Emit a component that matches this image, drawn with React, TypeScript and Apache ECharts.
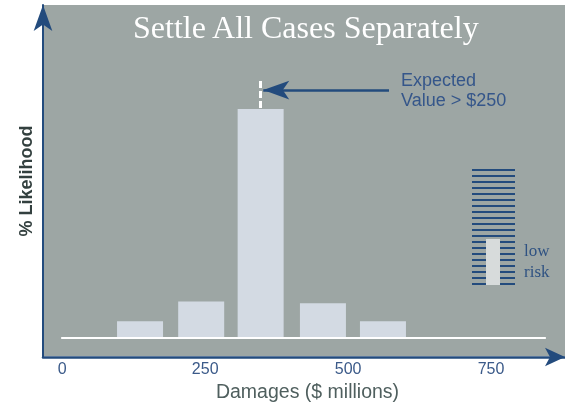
import React, { useEffect, useRef } from "react";
import * as echarts from "echarts";

// ---- data ----
const damageCenters = [136, 243, 347, 456, 561]; // $ millions (bar centres)
const likelihood = [5, 11, 70, 10.5, 5]; // % likelihood
const tickValues = [0, 250, 500, 750];
const expectedValue = 347;
const titleText = "Settle All Cases Separately";
const xAxisName = "Damages ($ millions)";
const yAxisName = "% Likelihood";
const annotationLines = ["Expected", "Value > $250"];
const riskLabel = ["low", "risk"];

export default function App() {
  const ref = useRef<HTMLDivElement>(null);

  useEffect(() => {
    const chart = echarts.init(ref.current as HTMLDivElement, null, { renderer: "svg" });
    const blue = "#234b7d";
    const bg = "#9da6a4";

    const stripes = Array.from({ length: 20 }, (_, i) => ({
      type: "rect",
      shape: { x: 472, y: 169 + 6 * i, width: 43, height: 2 },
      style: { fill: blue },
      silent: true,
    }));

    chart.setOption({
      animation: false,
      title: {
        text: titleText,
        left: 133,
        top: 11,
        padding: 0,
        textStyle: {
          fontFamily: "'Liberation Serif', serif",
          fontSize: 32,
          fontWeight: "normal",
          color: "#ffffff",
        },
      },
      grid: { left: 43, right: 0, top: 5, bottom: 45, outerBoundsMode: "none", containLabel: false },
      xAxis: {
        type: "value",
        min: -33.77,
        max: 879.5,
        name: xAxisName,
        nameLocation: "middle",
        nameGap: 14,
        nameTextStyle: {
          fontFamily: "'Liberation Sans', Arial, sans-serif",
          fontSize: 19.5,
          color: "#4f5f5e",
          padding: [0, 0, 0, 7],
        },
        axisLine: {
          show: true,
          onZero: false,
          symbol: ["none", "arrow"],
          symbolSize: [14, 20],
          lineStyle: { color: blue, width: 2.5 },
        },
        axisTick: { show: false },
        splitLine: { show: false },
        axisLabel: {
          customValues: tickValues,
          color: "#3b5a89",
          fontFamily: "'Liberation Sans Narrow', 'Liberation Sans', sans-serif",
          fontSize: 16,
          margin: 3,
        },
      },
      yAxis: {
        type: "value",
        min: -5.97,
        max: 101.87,
        name: yAxisName,
        nameLocation: "middle",
        nameGap: 8,
        nameRotate: 90,
        nameTextStyle: {
          fontFamily: "'Liberation Sans', Arial, sans-serif",
          fontWeight: "bold",
          fontSize: 18,
          color: "#33403f",
        },
        axisLine: {
          show: true,
          onZero: false,
          symbol: ["none", "arrow"],
          symbolSize: [14, 26],
          lineStyle: { color: blue, width: 2 },
        },
        axisTick: { show: false },
        axisLabel: { show: false },
        splitLine: { show: false },
      },
      series: [
        {
          type: "bar",
          data: damageCenters.map((x, i) => [x, likelihood[i]]),
          barWidth: 46,
          itemStyle: { color: "#d3dae3" },
          silent: true,
          markLine: {
            silent: true,
            animation: false,
            symbol: "none",
            label: { show: false },
            data: [
              [
                { coord: [-2, 0], lineStyle: { color: "#ffffff", width: 2, type: "solid" } },
                { coord: [846, 0] },
              ],
              [
                { coord: [expectedValue, 78.6], lineStyle: { color: "#ffffff", width: 3, type: [7, 3] } },
                { coord: [expectedValue, 70] },
              ],
              [
                {
                  coord: [571.6, 75.8],
                  symbol: "none",
                  lineStyle: { color: blue, width: 2.5, type: "solid" },
                  label: {
                    show: true,
                    position: "start",
                    distance: 12,
                    formatter: annotationLines.join("\n"),
                    color: "#35568a",
                    fontFamily: "'Liberation Sans', Arial, sans-serif",
                    fontSize: 18,
                    lineHeight: 20,
                  },
                },
                { coord: [351.6, 75.8], symbol: "arrow", symbolSize: [14, 26] },
              ],
            ],
          },
        },
      ],
      graphic: [
        {
          type: "rect",
          z: -10,
          silent: true,
          shape: { x: 44, y: 5, width: 521, height: 351 },
          style: { fill: bg },
        },
        {
          type: "group",
          silent: true,
          children: [
            ...stripes,
            {
              type: "rect",
              shape: { x: 486, y: 239, width: 14, height: 46 },
              style: { fill: "#d7dbdb" },
            },
            {
              type: "text",
              x: 524,
              y: 240,
              style: {
                text: riskLabel.join("\n"),
                fill: "#2f5282",
                fontFamily: "'Liberation Serif', serif",
                fontSize: 17,
                lineHeight: 21,
                verticalAlign: "top",
              },
            },
          ],
        },
      ],
    });

    return () => chart.dispose();
  }, []);

  return (
    <div
      ref={ref}
      style={{ position: "fixed", left: 0, top: 0, width: 565, height: 402 }}
    />
  );
}
